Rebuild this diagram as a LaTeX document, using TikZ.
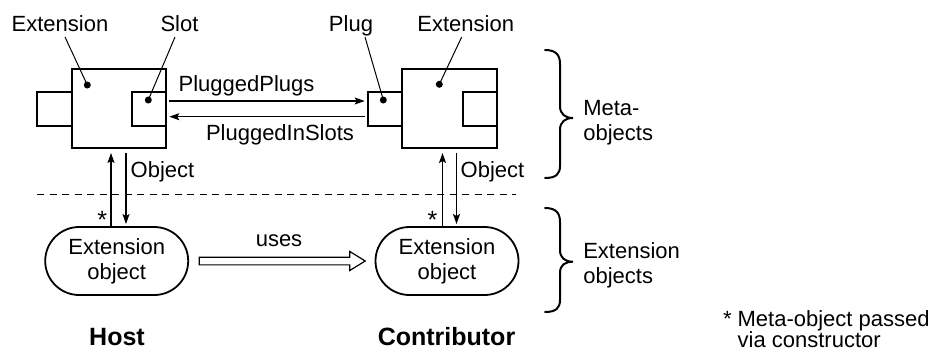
\documentclass[tikz,border=0pt]{standalone}
\usepackage{fontspec}
\setmainfont{Liberation Sans}
\usetikzlibrary{arrows.meta,calc}

\begin{document}
\begin{tikzpicture}[x=1pt,y=-1pt,
  every node/.style={inner sep=0pt, outer sep=0pt},
  txt/.style={font=\fontsize{22}{25}\selectfont},
  bigtxt/.style={font=\bfseries\fontsize{25}{28}\selectfont},
  frame/.style={draw, line width=2pt, rectangle},
  bigbox/.style={frame, minimum width=94pt, minimum height=79pt},
  portbox/.style={frame, minimum width=34pt, minimum height=34pt},
  dotn/.style={circle, fill, minimum size=7pt},
  leader/.style={line width=1pt},
  arr/.style={line width=1.3pt, -{Stealth[length=10pt,width=7pt,inset=2pt]}},
  objnode/.style={draw, line width=1.8pt, rounded corners=34pt,
    minimum width=143pt, minimum height=68pt, align=center,
    font=\fontsize{22}{25}\selectfont},
  bracepath/.style={line width=2pt, line cap=round}
]
\useasboundingbox (0,0) rectangle (939,351);

% host meta-object with its slot and the stub on the left
\node[portbox, minimum width=35pt] (hstub) at (54.5,109) {};
\node[bigbox] (hbox) at (119,108.5) {};
\node[portbox] (slot) at (149,109) {};

% contributor meta-object with its plug
\node[portbox] (plug) at (385,109) {};
\node[bigbox, minimum width=95pt] (cbox) at (449.5,108.5) {};
\node[portbox] (cslot) at (480,109) {};

% dots marking the parts
\node[dotn] (dh) at (87.3,85) {};
\node[dotn] (ds) at (148.3,100) {};
\node[dotn] (dp) at (383.3,100) {};
\node[dotn] (dc) at (439.3,84.3) {};

% part labels with leader lines
\node[txt, anchor=base] (lh) at (60,31.5) {Extension};
\node[txt, anchor=base] (ls) at (179.5,31.5) {Slot};
\node[txt, anchor=base] (lp) at (351,31.5) {Plug};
\node[txt, anchor=base] (lc) at (465.7,31.5) {Extension};
\draw[leader] ($(lh.base)+(5,5.5)$) -- (dh.center);
\draw[leader] ($(ls.base)+(-4.5,5.5)$) -- (ds.center);
\draw[leader] ($(lp.base)+(14,5.5)$) -- (dp.center);
\draw[leader] ($(lc.base)+(-4,5.5)$) -- (dc.center);

% plug/slot references
\draw[arr, shorten <=3.3pt, shorten >=3.3pt] ([yshift=8pt]slot.east) -- ([yshift=8pt]plug.west);
\draw[arr, shorten <=3.3pt, shorten >=3.3pt] ([yshift=-7.7pt]plug.west) -- ([yshift=-7.7pt]slot.east);
\node[txt, anchor=base] (lpp) at (246.5,91.7) {PluggedPlugs};
\node[txt, anchor=base] (lps) at (280,140) {PluggedInSlots};

% separator between the two levels
\coordinate (sepL) at (37,194);
\coordinate (sepR) at (516,194);
\draw[line width=1pt, dash pattern=on 7pt off 5.5pt] (sepL) -- (sepR);

% extension objects
\node[objnode] (hobj) at (116.7,261) {Extension\\object};
\node[objnode] (cobj) at (447,261) {Extension\\object};

% links between meta-objects and extension objects
\draw[arr, shorten >=5pt] ([xshift=-8pt]hbox.south |- hobj.north) -- ([xshift=-8pt]hbox.south);
\draw[arr, shorten <=5pt, shorten >=3pt] ([xshift=7pt]hbox.south) -- ([xshift=7pt]hbox.south |- hobj.north);
\draw[arr, shorten >=5pt] ([xshift=-7pt]cbox.south |- cobj.north) -- ([xshift=-7pt]cbox.south);
\draw[arr, shorten <=5pt, shorten >=3pt] ([xshift=7pt]cbox.south) -- ([xshift=7pt]cbox.south |- cobj.north);
\node[txt, anchor=base west] (loh) at (130.7,177) {Object};
\node[txt, anchor=base west] (loc) at (460.7,177) {Object};
\node[txt, anchor=base] (sh) at (102.3,228) {\fontsize{25}{25}\selectfont *};
\node[txt, anchor=base] (sc) at (432.5,228) {\fontsize{25}{25}\selectfont *};

% "uses" hollow arrow
\draw[line width=1.2pt, line join=miter]
  ($(hobj.east)+(11,-3.85)$) -- ($(cobj.west)+(-25.7,-3.85)$)
  -- ($(cobj.west)+(-25.7,-9.5)$) -- ($(cobj.west)+(-10.3,0)$)
  -- ($(cobj.west)+(-25.7,9.5)$) -- ($(cobj.west)+(-25.7,3.85)$)
  -- ($(hobj.east)+(11,3.85)$) -- cycle;
\node[txt, anchor=base] (luses) at (279,246.7) {uses};

% braces grouping the levels
\draw[bracepath] (545,50) .. controls (556,50) and (560,55) .. (560,64)
  -- (560,106) .. controls (560,114) and (565,118) .. (573,118)
  .. controls (565,118) and (560,122) .. (560,130)
  -- (560,166) .. controls (560,174) and (556,178) .. (545,178);
\draw[bracepath] (545,208) .. controls (556,208) and (560,213) .. (560,222)
  -- (560,250) .. controls (560,258) and (565,261.7) .. (573,261.7)
  .. controls (565,261.7) and (560,265) .. (560,273)
  -- (560,300) .. controls (560,308) and (556,312) .. (545,312);
\node[txt, anchor=base west] (lm1) at (583.3,115.7) {Meta-};
\node[txt, anchor=base west] (lm2) at (583.3,140.2) {objects};
\node[txt, anchor=base west] (le1) at (583.3,258.3) {Extension};
\node[txt, anchor=base west] (le2) at (583.3,283.3) {objects};

% column titles
\node[bigtxt, anchor=base] (thost) at (117,345.5) {Host};
\node[bigtxt, anchor=base] (tcont) at (446.5,345.5) {Contributor};

% footnote, second line hung under the text after the asterisk
\node[anchor=north west, align=left, font=\fontsize{22}{20}\selectfont] (fn) at (723,310.5)
  {* Meta-object passed\\\phantom{* }via constructor};
\end{tikzpicture}
\end{document}
